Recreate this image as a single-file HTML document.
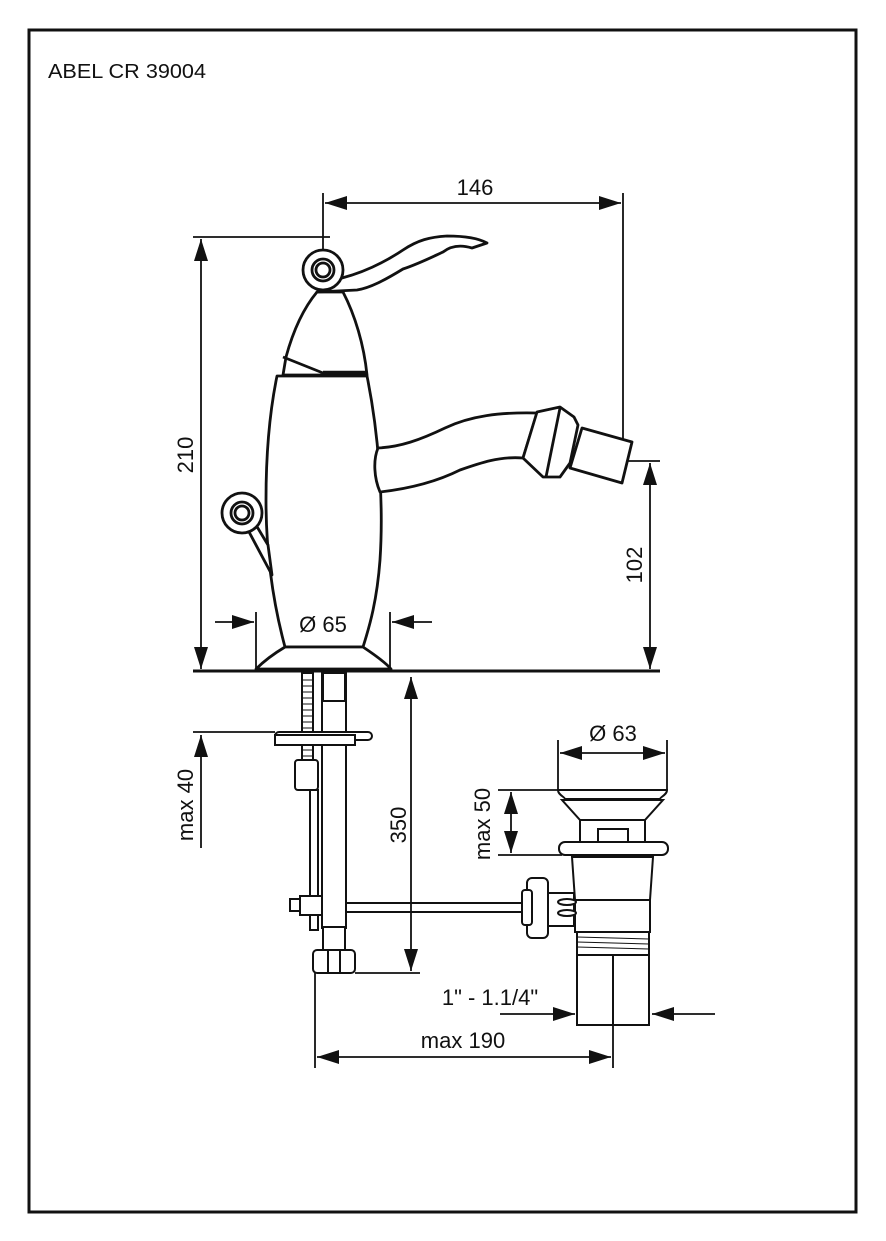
<!DOCTYPE html>
<html><head><meta charset="utf-8"><style>
html,body{margin:0;padding:0;background:#fff}
svg{display:block}
text{font-family:"Liberation Sans",Arial,sans-serif;fill:#111}
</style></head><body>
<svg width="886" height="1241" viewBox="0 0 886 1241" xmlns="http://www.w3.org/2000/svg">
<defs>
<marker id="a" viewBox="0 0 22 14" refX="22" refY="7" markerWidth="22" markerHeight="14" markerUnits="userSpaceOnUse" orient="auto-start-reverse"><path d="M0,0 L22,7 L0,14 z" fill="#111"/></marker>
</defs>
<rect x="29" y="30" width="827" height="1182" fill="none" stroke="#111" stroke-width="3"/>
<text x="48" y="78" font-size="20" textLength="158" lengthAdjust="spacingAndGlyphs">ABEL CR 39004</text>

<g stroke="#111" stroke-width="1.8" fill="none">
<line x1="323" y1="193" x2="323" y2="255"/>
<line x1="623" y1="193" x2="623" y2="460"/>
<line x1="325" y1="203" x2="621" y2="203" marker-start="url(#a)" marker-end="url(#a)"/>
<line x1="193" y1="237" x2="330" y2="237"/>
<line x1="201" y1="239" x2="201" y2="669" marker-start="url(#a)" marker-end="url(#a)"/>
<line x1="628" y1="461" x2="660" y2="461"/>
<line x1="650" y1="463" x2="650" y2="669" marker-start="url(#a)" marker-end="url(#a)"/>
<line x1="256" y1="612" x2="256" y2="670"/>
<line x1="390" y1="612" x2="390" y2="670"/>
<line x1="215" y1="622" x2="254" y2="622" marker-end="url(#a)"/>
<line x1="432" y1="622" x2="392" y2="622" marker-end="url(#a)"/>
</g>
<line x1="193" y1="671" x2="660" y2="671" stroke="#111" stroke-width="3"/>

<text x="475" y="195" font-size="22" text-anchor="middle">146</text>
<text transform="translate(193,455) rotate(-90)" font-size="22" text-anchor="middle">210</text>
<text transform="translate(642,565) rotate(-90)" font-size="22" text-anchor="middle">102</text>

<g stroke="#111" stroke-width="2.8" fill="#fff" stroke-linejoin="round">
<path d="M317,292 L343,292 C355,315 364,345 367,375 L283,375 L286,357 C292,335 302,310 317,292 z"/>
<path d="M283,357 L323,373 L367,373" />
<line x1="323" y1="373" x2="367" y2="373" stroke-width="4.5"/>
<path d="M277,376 L367,376 C378,430 384,500 380,560 C377,600 370,625 363,647 L285,647 C275,610 266,560 266,500 C266,450 270,410 277,376 z"/>
<path d="M285,647 L363,647 C375,655 385,662 391,669 L256,669 C265,660 275,653 285,647 z"/>
<path d="M378,448 C400,447 420,440 445,428 C470,416 500,412 537,413 L523,458 C500,456 480,463 460,470 C440,480 415,488 380,492 C374,478 373,460 378,448 z"/>
<path d="M537,412 L560,407 L574,417 L578,425 L570,463 L560,477 L543,477 L523,458 z"/>
<line x1="560" y1="408" x2="546" y2="477"/>
<path d="M582,428 L632,442 L622,483 L570,468 z"/>
<path d="M342,278 C365,272 385,262 403,250 C418,240 430,237 447,236 C465,236 478,238 487,243 L472,248 C462,245 452,245 443,252 C430,258 418,264 403,269 C385,280 370,288 357,290 L317,292 z"/>
<circle cx="323" cy="270" r="20"/>
<circle cx="323" cy="270" r="11"/>
<circle cx="323" cy="270" r="7"/>
<path d="M248,530 L272,575 L268,545 L256,525 z"/>
<circle cx="242" cy="513" r="20"/>
<circle cx="242" cy="513" r="11"/>
<circle cx="242" cy="513" r="7"/>
</g>
<text x="323" y="632" font-size="22" text-anchor="middle">Ø 65</text>

<g stroke="#111" stroke-width="2" fill="#fff">
<rect x="302" y="673" width="11" height="88"/>
<g stroke-width="1">
<line x1="302" y1="680" x2="313" y2="680"/><line x1="302" y1="686" x2="313" y2="686"/><line x1="302" y1="692" x2="313" y2="692"/><line x1="302" y1="698" x2="313" y2="698"/><line x1="302" y1="704" x2="313" y2="704"/><line x1="302" y1="710" x2="313" y2="710"/><line x1="302" y1="716" x2="313" y2="716"/><line x1="302" y1="722" x2="313" y2="722"/><line x1="302" y1="728" x2="313" y2="728"/><line x1="302" y1="750" x2="313" y2="750"/><line x1="302" y1="756" x2="313" y2="756"/>
</g>
<rect x="322" y="673" width="24" height="255"/>
<rect x="323" y="673" width="22" height="28"/>
<rect x="310" y="790" width="8" height="140"/>
<rect x="275" y="732" width="97" height="8" rx="4"/>
<rect x="275" y="735" width="80" height="10"/>
<rect x="295" y="760" width="23" height="30" rx="3"/>
<rect x="290" y="899" width="10" height="12"/>
<rect x="300" y="896" width="22" height="19"/>
<rect x="346" y="903" width="180" height="9"/>
<rect x="323" y="927" width="22" height="23"/>
<rect x="313" y="950" width="42" height="23" rx="4"/>
<line x1="328" y1="950" x2="328" y2="973"/><line x1="340" y1="950" x2="340" y2="973"/>
</g>
<g stroke="#111" stroke-width="1.8" fill="none">
<line x1="193" y1="732" x2="275" y2="732"/>
<line x1="201" y1="735" x2="201" y2="848" marker-start="url(#a)"/>
<line x1="411" y1="677" x2="411" y2="971" marker-start="url(#a)" marker-end="url(#a)"/>
<line x1="355" y1="973" x2="420" y2="973"/>
<line x1="315" y1="973" x2="315" y2="1068"/>
<line x1="613" y1="1025" x2="613" y2="1068"/>
<line x1="317" y1="1057" x2="611" y2="1057" marker-start="url(#a)" marker-end="url(#a)"/>
<line x1="500" y1="1014" x2="575" y2="1014" marker-end="url(#a)"/>
<line x1="715" y1="1014" x2="652" y2="1014" marker-end="url(#a)"/>
<line x1="558" y1="740" x2="558" y2="790"/>
<line x1="667" y1="740" x2="667" y2="790"/>
<line x1="560" y1="753" x2="665" y2="753" marker-start="url(#a)" marker-end="url(#a)"/>
<line x1="498" y1="790" x2="558" y2="790"/>
<line x1="498" y1="855" x2="562" y2="855"/>
<line x1="511" y1="792" x2="511" y2="853" marker-start="url(#a)" marker-end="url(#a)"/>
</g>
<text transform="translate(406,825) rotate(-90)" font-size="22" text-anchor="middle">350</text>
<text transform="translate(193,805) rotate(-90)" font-size="22" text-anchor="middle">max 40</text>
<text transform="translate(490,824) rotate(-90)" font-size="22" text-anchor="middle">max 50</text>
<text x="613" y="741" font-size="22" text-anchor="middle">Ø 63</text>
<text x="490" y="1005" font-size="22" text-anchor="middle">1" - 1.1/4"</text>
<text x="463" y="1048" font-size="22" text-anchor="middle">max 190</text>

<g stroke="#111" stroke-width="2" fill="#fff">
<path d="M558,790 L667,790 C667,795 660,797 660,799 L565,799 C565,797 558,795 558,790 z"/>
<path d="M562,800 L663,800 L645,820 L580,820 z"/>
<rect x="580" y="820" width="65" height="22"/>
<rect x="598" y="829" width="30" height="14"/>
<rect x="559" y="842" width="109" height="13" rx="6"/>
<path d="M572,857 L653,857 L650,900 L575,900 z"/>
<rect x="575" y="900" width="75" height="32"/>
<rect x="577" y="932" width="72" height="23"/>
<g stroke-width="1"><line x1="577" y1="937" x2="649" y2="939"/><line x1="577" y1="942" x2="649" y2="944"/><line x1="577" y1="947" x2="649" y2="949"/></g>
<rect x="577" y="955" width="72" height="70"/>
<line x1="613" y1="955" x2="613" y2="1025"/>
<rect x="546" y="893" width="28" height="33"/>
<ellipse cx="567" cy="902" rx="9" ry="3"/><ellipse cx="567" cy="913" rx="9" ry="3"/>
<rect x="527" y="878" width="21" height="60" rx="5"/>
<rect x="522" y="890" width="10" height="35" rx="3"/>
</g>
</svg>
</body></html>
